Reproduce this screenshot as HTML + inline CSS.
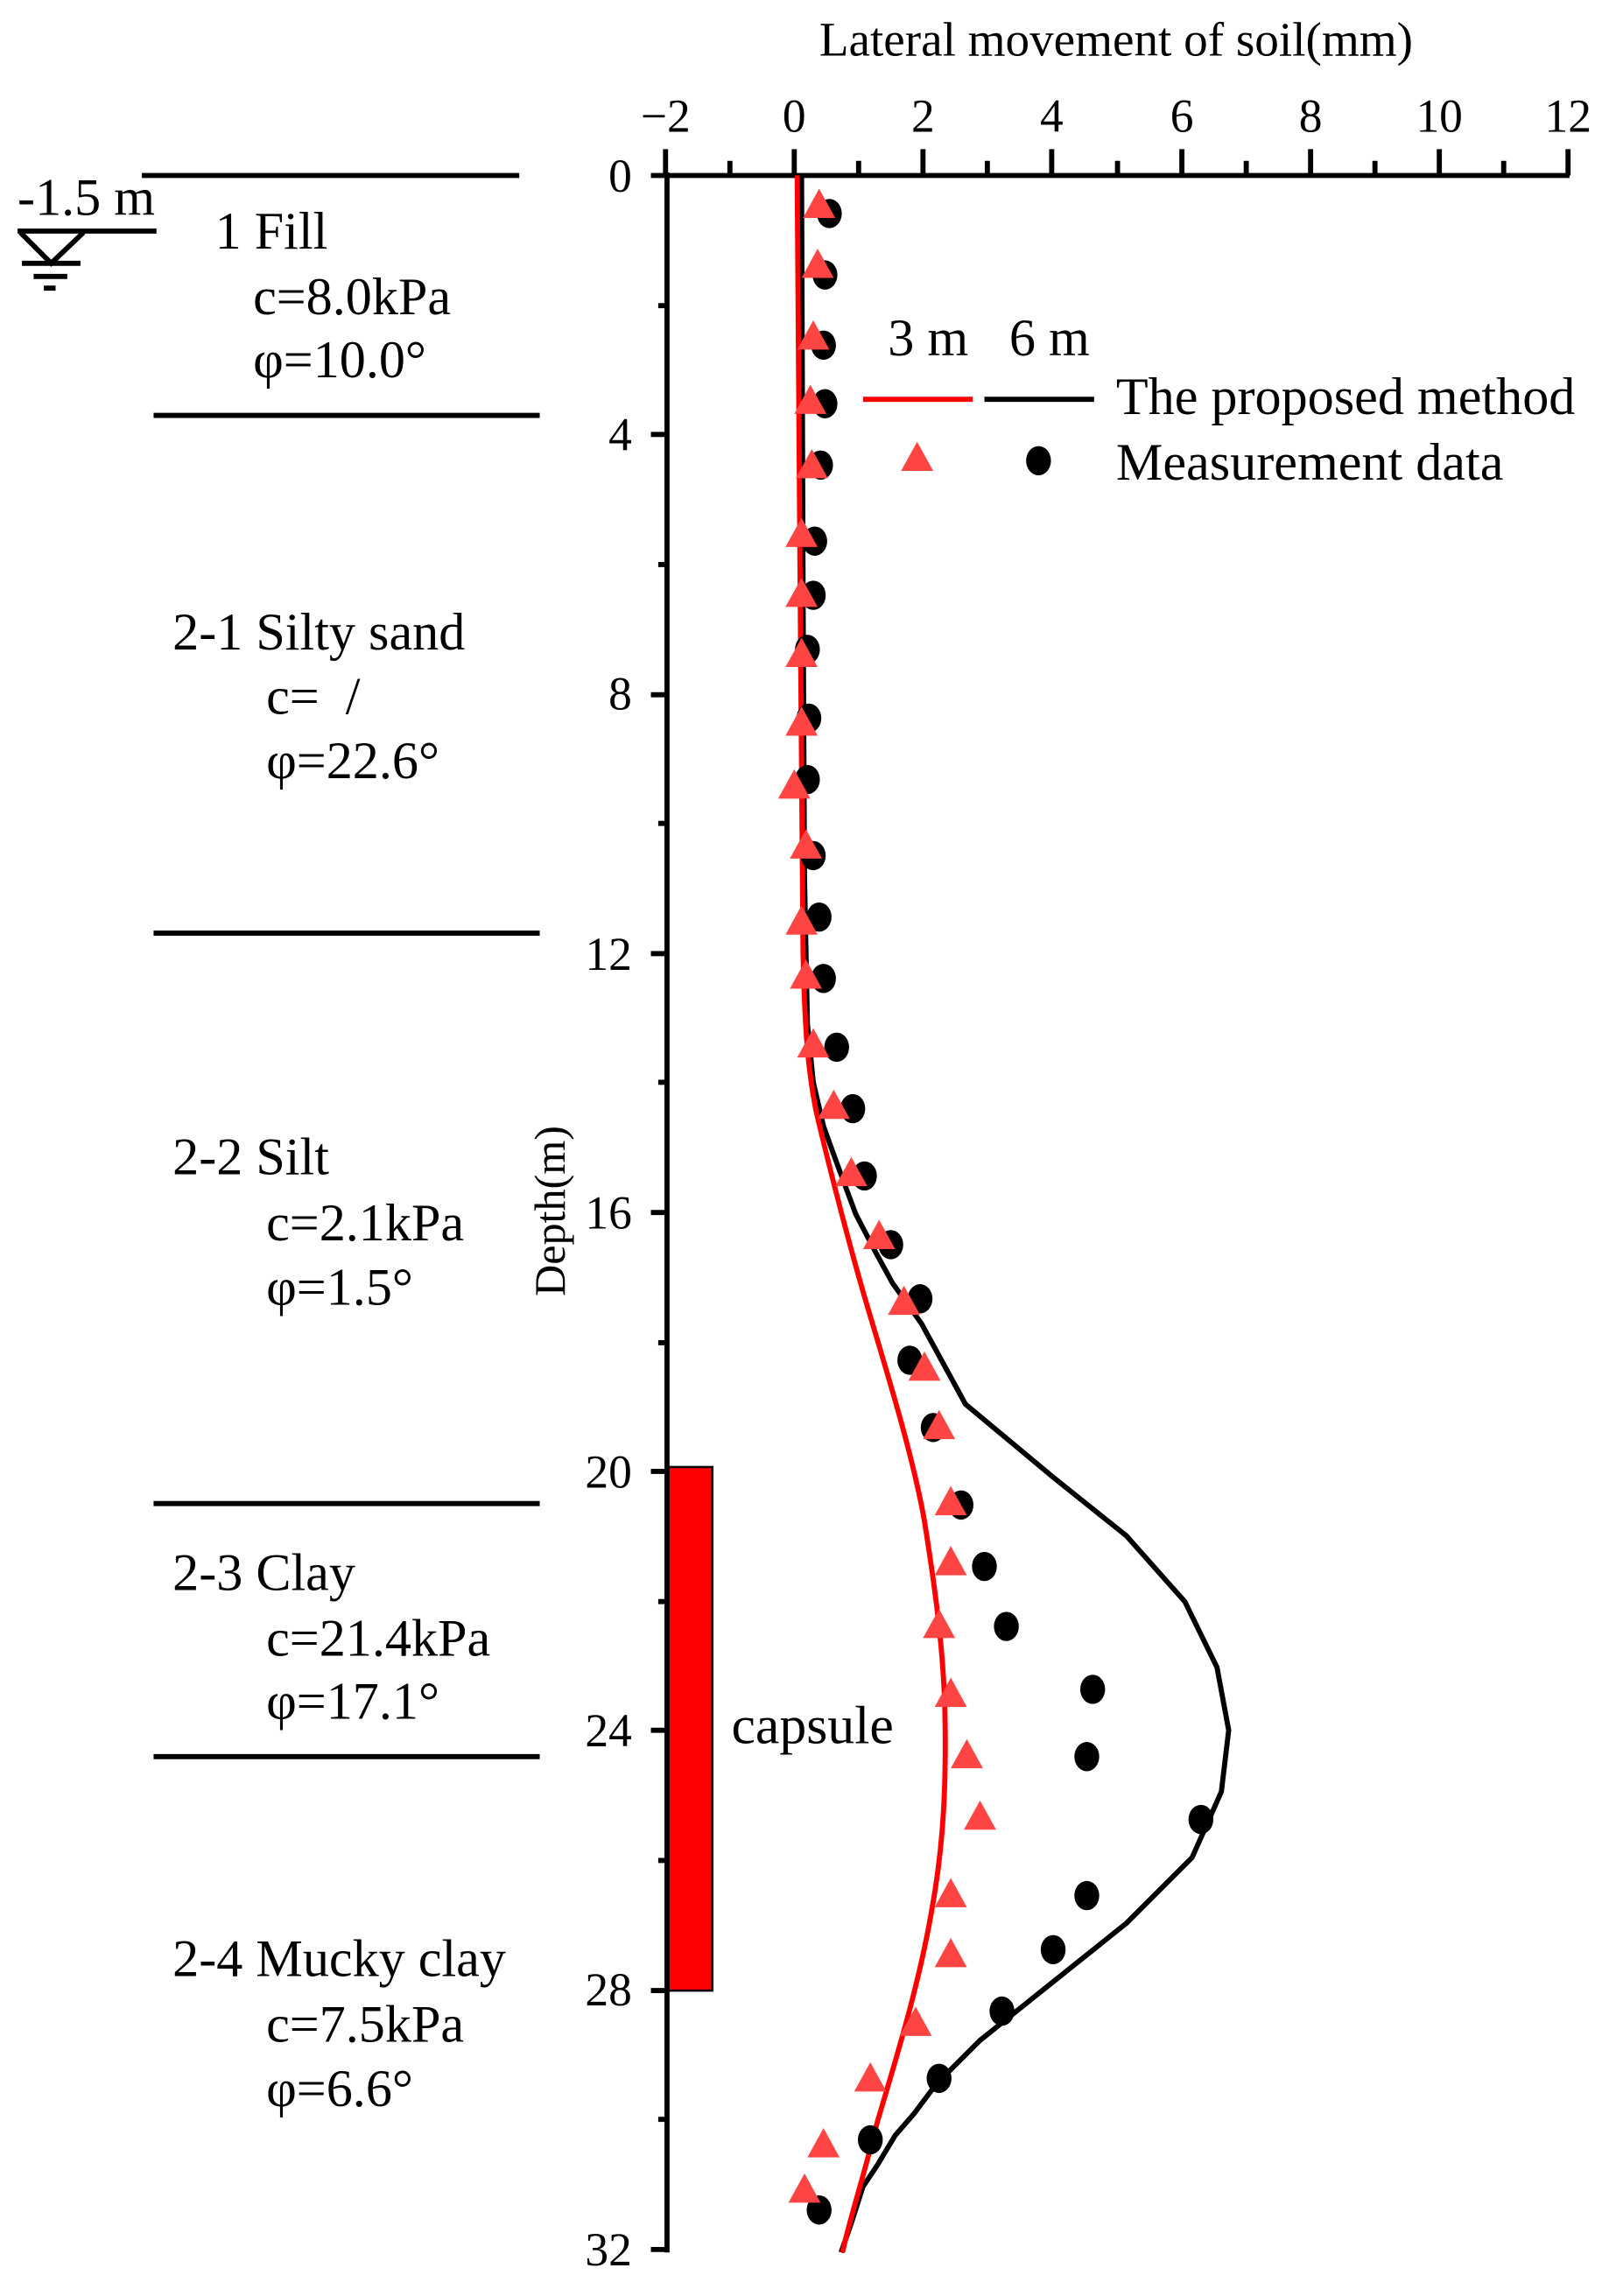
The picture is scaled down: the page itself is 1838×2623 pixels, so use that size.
<!DOCTYPE html>
<html><head><meta charset="utf-8"><style>html,body{margin:0;padding:0;background:#fff}svg{display:block}</style></head>
<body>
<svg width="1838" height="2623" viewBox="0 0 1100 1569.8" xmlns="http://www.w3.org/2000/svg" font-family="Liberation Serif, serif" fill="#000">
<text x="763" y="38" font-size="33" text-anchor="middle">Lateral movement of soil(mm)</text>
<g font-size="32" text-anchor="middle">
<text x="455" y="90">−2</text><text x="543" y="90">0</text><text x="631" y="90">2</text><text x="719" y="90">4</text><text x="808" y="90">6</text><text x="896" y="90">8</text><text x="984" y="90">10</text><text x="1072" y="90">12</text>
</g>
<g font-size="32" text-anchor="end">
<text x="432" y="131">0</text><text x="432" y="308">4</text><text x="432" y="485">8</text><text x="432" y="663">12</text><text x="432" y="840">16</text><text x="432" y="1017">20</text><text x="432" y="1194">24</text><text x="432" y="1371">28</text><text x="432" y="1549">32</text>
</g>
<text transform="translate(386,828) rotate(-90)" font-size="30" text-anchor="middle">Depth(m)</text>
<g stroke="#000" stroke-width="3.5" fill="none">
<line x1="456" y1="120" x2="1073" y2="120"/>
<line x1="456" y1="118" x2="456" y2="1540"/>
<path d="M455,120V102 M543,120V102 M631,120V102 M719,120V102 M808,120V102 M896,120V102 M984,120V102 M1072,120V102"/>
<path d="M499,120V110 M587,120V110 M675,120V110 M764,120V110 M852,120V110 M940,120V110 M1028,120V110"/>
<path d="M456,120H445 M456,297H445 M456,475H445 M456,652H445 M456,829H445 M456,1006H445 M456,1183H445 M456,1361H445 M456,1538H445"/>
<path d="M456,209H450 M456,386H450 M456,563H450 M456,740H450 M456,918H450 M456,1095H450 M456,1272H450 M456,1449H450"/>
</g>
<g stroke="#000" stroke-width="3.5">
<line x1="97" y1="120" x2="355" y2="120"/>
<line x1="105" y1="284" x2="369" y2="284"/>
<line x1="105" y1="638" x2="369" y2="638"/>
<line x1="105" y1="1028" x2="369" y2="1028"/>
<line x1="105" y1="1201" x2="369" y2="1201"/>
<line x1="12" y1="158" x2="107" y2="158"/>
<line x1="15" y1="180" x2="55" y2="180"/>
<line x1="23" y1="189" x2="46" y2="189"/>
<line x1="30" y1="197" x2="38" y2="197"/>
</g>
<polyline points="14,159 35,180 57,159" fill="none" stroke="#000" stroke-width="3.5"/>
<g font-size="36">
<text x="12" y="147">-1.5 m</text>
<text x="147" y="170">1 Fill</text>
<text x="173" y="215">c=8.0kPa</text>
<text x="173" y="258">φ=10.0°</text>
<text x="118" y="444">2-1 Silty sand</text>
<text x="182" y="488" xml:space="preserve">c=  /</text>
<text x="182" y="532">φ=22.6°</text>
<text x="118" y="803">2-2 Silt</text>
<text x="182" y="848">c=2.1kPa</text>
<text x="182" y="892">φ=1.5°</text>
<text x="118" y="1087">2-3 Clay</text>
<text x="182" y="1132">c=21.4kPa</text>
<text x="182" y="1175">φ=17.1°</text>
<text x="118" y="1351">2-4 Mucky clay</text>
<text x="182" y="1396">c=7.5kPa</text>
<text x="182" y="1440">φ=6.6°</text>
<text x="500" y="1192" font-size="37">capsule</text>
</g>
<rect x="457" y="1003" width="30" height="358" fill="#ff0000" stroke="#000" stroke-width="1.5"/>
<g font-size="36">
<text x="607" y="243">3 m</text><text x="690" y="243">6 m</text>
<text x="763" y="283">The proposed method</text>
<text x="763" y="328">Measurement data</text>
</g>
<line x1="590" y1="273" x2="665" y2="273" stroke="#ff0000" stroke-width="3.5"/>
<line x1="673" y1="273" x2="748" y2="273" stroke="#000" stroke-width="3.5"/>
<polygon points="627,302 616,322 638,322" fill="#ff4444"/>
<ellipse cx="710" cy="315" rx="8.5" ry="10"/>
<polyline fill="none" stroke="#000" stroke-width="3.5" stroke-linejoin="round" points="548,120 549,400 550,600 552,700 556,740 563,770 572,795 585,830 598,855 610,877 630,905 660,960 720,1010 770,1050 810,1095 832,1140 840,1183 835,1225 815,1270 770,1315 720,1355 670,1395 640,1425 625,1445 612,1460 600,1480 590,1495 582,1520 575,1540"/>
<path fill="none" stroke="#ff0000" stroke-width="3.5" d="M545,120 L547,400 L549,650 C550,700 552,730 558,760 C565,790 580,850 595,900 C610,950 625,1000 632,1040 C640,1090 645,1130 646,1170 C647,1220 645,1260 638,1300 C630,1350 615,1400 600,1450 C590,1490 580,1520 576,1540"/>
<g>
<ellipse cx="567" cy="146" rx="8.5" ry="10"/><ellipse cx="564" cy="188" rx="8.5" ry="10"/><ellipse cx="563" cy="236" rx="8.5" ry="10"/><ellipse cx="564" cy="276" rx="8.5" ry="10"/><ellipse cx="561" cy="318" rx="8.5" ry="10"/><ellipse cx="557" cy="370" rx="8.5" ry="10"/><ellipse cx="556" cy="407" rx="8.5" ry="10"/><ellipse cx="552" cy="444" rx="8.5" ry="10"/><ellipse cx="553" cy="491" rx="8.5" ry="10"/><ellipse cx="552" cy="533" rx="8.5" ry="10"/><ellipse cx="556" cy="585" rx="8.5" ry="10"/><ellipse cx="560" cy="627" rx="8.5" ry="10"/><ellipse cx="563" cy="669" rx="8.5" ry="10"/><ellipse cx="572" cy="716" rx="8.5" ry="10"/><ellipse cx="583" cy="758" rx="8.5" ry="10"/><ellipse cx="591" cy="804" rx="8.5" ry="10"/><ellipse cx="609" cy="851" rx="8.5" ry="10"/><ellipse cx="629" cy="888" rx="8.5" ry="10"/><ellipse cx="622" cy="930" rx="8.5" ry="10"/><ellipse cx="638" cy="976" rx="8.5" ry="10"/><ellipse cx="657" cy="1029" rx="8.5" ry="10"/><ellipse cx="673" cy="1071" rx="8.5" ry="10"/><ellipse cx="688" cy="1112" rx="8.5" ry="10"/><ellipse cx="747" cy="1155" rx="8.5" ry="10"/><ellipse cx="743" cy="1201" rx="8.5" ry="10"/><ellipse cx="821" cy="1244" rx="8.5" ry="10"/><ellipse cx="743" cy="1296" rx="8.5" ry="10"/><ellipse cx="720" cy="1333" rx="8.5" ry="10"/><ellipse cx="685" cy="1375" rx="8.5" ry="10"/><ellipse cx="642" cy="1421" rx="8.5" ry="10"/><ellipse cx="595" cy="1463" rx="8.5" ry="10"/><ellipse cx="560" cy="1511" rx="8.5" ry="10"/>
</g>
<g fill="#ff4444">
<polygon points="560,129 549,149 571,149"/><polygon points="559,170 548,190 570,190"/><polygon points="556,219 545,239 567,239"/><polygon points="554,263 543,283 565,283"/><polygon points="555,307 544,327 566,327"/><polygon points="548,354 537,374 559,374"/><polygon points="548,395 537,415 559,415"/><polygon points="548,436 537,456 559,456"/><polygon points="548,483 537,503 559,503"/><polygon points="543,526 532,546 554,546"/><polygon points="551,567 540,587 562,587"/><polygon points="548,619 537,639 559,639"/><polygon points="551,656 540,676 562,676"/><polygon points="556,703 545,723 567,723"/><polygon points="570,745 559,765 581,765"/><polygon points="582,791 571,811 593,811"/><polygon points="601,834 590,854 612,854"/><polygon points="618,879 607,899 629,899"/><polygon points="632,924 621,944 643,944"/><polygon points="642,964 631,984 653,984"/><polygon points="650,1016 639,1036 661,1036"/><polygon points="650,1057 639,1077 661,1077"/><polygon points="642,1100 631,1120 653,1120"/><polygon points="650,1147 639,1167 661,1167"/><polygon points="661,1189 650,1209 672,1209"/><polygon points="670,1231 659,1251 681,1251"/><polygon points="650,1284 639,1304 661,1304"/><polygon points="650,1325 639,1345 661,1345"/><polygon points="626,1372 615,1392 637,1392"/><polygon points="595,1410 584,1430 606,1430"/><polygon points="563,1455 552,1475 574,1475"/><polygon points="550,1486 539,1506 561,1506"/>
</g>
</svg>
</body></html>
